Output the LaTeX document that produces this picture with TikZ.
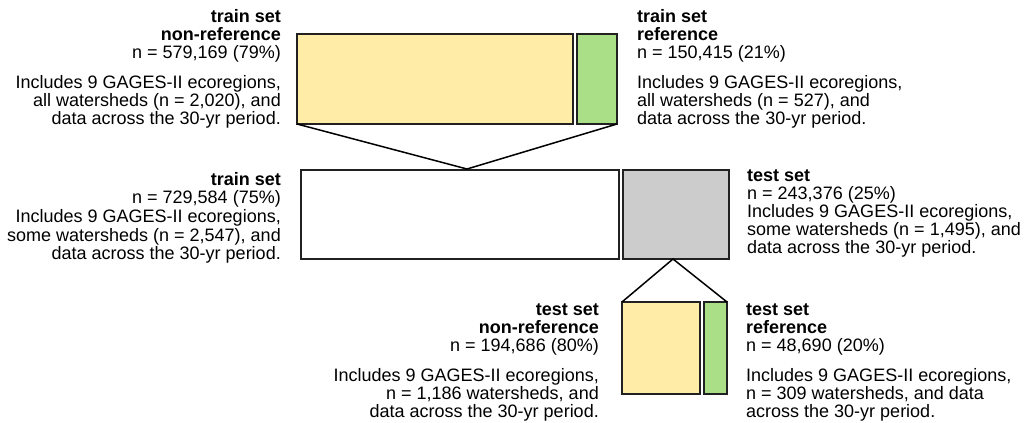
\documentclass[tikz,border=0pt]{standalone}
\usepackage{fontspec}
\setmainfont{Liberation Sans}
\definecolor{nrefyellow}{RGB}{255,236,166}
\definecolor{refgreen}{RGB}{170,222,135}
\definecolor{testgray}{RGB}{204,204,204}
\tikzset{
  setbox/.style={draw=black!87, line width=2pt, inner sep=0pt, outer sep=0pt, anchor=north west},
  lefttext/.style={anchor=north east, align=right, inner sep=0pt, font=\fontsize{18}{18}\selectfont},
  righttext/.style={anchor=north west, align=left, inner sep=0pt, font=\fontsize{18}{18}\selectfont},
  split/.style={line width=1.5pt, black}
}
\begin{document}
\begin{tikzpicture}[x=1pt, y=-1pt]
  \useasboundingbox (0,0) rectangle (1026,423);
  % train split (top)
  \node[setbox, fill=nrefyellow, minimum width=276pt, minimum height=90pt] (trnref) at (297,34) {};
  \node[setbox, fill=refgreen, minimum width=40pt, minimum height=90pt] (trref) at (577,34) {};
  \node[lefttext] (trnreftxt) at (281,9)
    {\textbf{train set}\\ \textbf{non-reference}\\ n = 579,169 (79\%)\\[12pt]
     Includes 9 GAGES-II ecoregions,\\ all watersheds (n = 2,020), and\\ data across the 30-yr period.};
  \node[righttext] (trreftxt) at (637,9)
    {\textbf{train set}\\ \textbf{reference}\\ n = 150,415 (21\%)\\[12pt]
     Includes 9 GAGES-II ecoregions,\\ all watersheds (n = 527), and\\ data across the 30-yr period.};
  % train / test (centre)
  \node[setbox, fill=white, minimum width=318pt, minimum height=89pt] (train) at (301,170) {};
  \node[setbox, fill=testgray, minimum width=106pt, minimum height=89pt] (test) at (623,170) {};
  \node[lefttext, font=\fontsize{18}{18.6}\selectfont] (traintxt) at (281,172)
    {\textbf{train set}\\ n = 729,584 (75\%)\\ Includes 9 GAGES-II ecoregions,\\
     some watersheds (n = 2,547), and\\ data across the 30-yr period.};
  \node[righttext] (testtxt) at (747,170)
    {\textbf{test set}\\ n = 243,376 (25\%)\\ Includes 9 GAGES-II ecoregions,\\
     some watersheds (n = 1,495), and\\ data across the 30-yr period.};
  % test split (bottom)
  \node[setbox, fill=nrefyellow, minimum width=78pt, minimum height=92pt] (tsnref) at (622,302) {};
  \node[setbox, fill=refgreen, minimum width=23pt, minimum height=92pt] (tsref) at (704,302) {};
  \node[lefttext] (tsnreftxt) at (599,304)
    {\textbf{test set}\\ \textbf{non-reference}\\ n = 194,686 (80\%)\\[12pt]
     Includes 9 GAGES-II ecoregions,\\ n = 1,186 watersheds, and\\ data across the 30-yr period.};
  \node[righttext] (tsreftxt) at (746,304)
    {\textbf{test set}\\ \textbf{reference}\\ n = 48,690 (20\%)\\[12pt]
     Includes 9 GAGES-II ecoregions,\\ n = 309 watersheds, and data\\ across the 30-yr period.};
  % split lines
  \coordinate (trapex) at (467,169);
  \coordinate (tsapex) at (673,259);
  \draw[split] (trnref.south west) -- (trapex) -- (trref.south east);
  \draw[split] (tsnref.north west) -- (tsapex) -- (tsref.north east);
\end{tikzpicture}
\end{document}
